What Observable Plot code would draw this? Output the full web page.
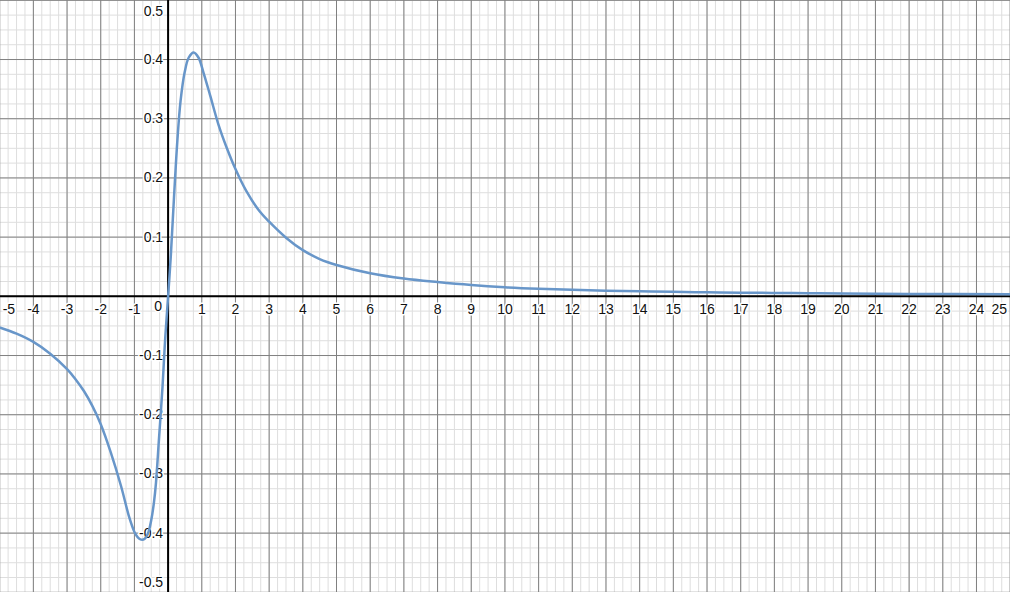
<!DOCTYPE html>
<html>
<head>
<meta charset="utf-8">
<script src="https://cdn.jsdelivr.net/npm/d3@7"></script>
<script src="https://cdn.jsdelivr.net/npm/@observablehq/plot@0.6"></script>
<style>
  html, body { margin: 0; padding: 0; background: #fff; }
  #chart svg { display: block; }
</style>
</head>
<body>
<div id="chart"></div>
<script>
// Curve points
const curveX = [-4.98, -4.5, -4.0, -3.5, -3.0, -2.75, -2.5, -2.25, -2.0, -1.7, -1.4, -1.15, -1.0, -0.9, -0.8, -0.7, -0.6, -0.5, -0.42, -0.36, -0.27, -0.166, -0.09, 0,
  0.08, 0.175, 0.275, 0.37, 0.49, 0.61, 0.76, 0.905, 1.05, 1.25, 1.49, 1.74, 2.0, 2.32, 2.71, 3.0, 3.5, 4.0, 4.5, 5.0,
  6, 7, 8, 9, 10, 11, 12, 13, 14, 15, 16, 17, 18, 19, 20, 22, 25.01];
const curveY = [-0.053, -0.063, -0.077, -0.097, -0.123, -0.140, -0.160, -0.185, -0.216, -0.264, -0.320, -0.374, -0.398, -0.407, -0.411, -0.410, -0.401, -0.378, -0.348, -0.315, -0.240, -0.153, -0.075, 0,
  0.068, 0.167, 0.263, 0.330, 0.378, 0.403, 0.412, 0.403, 0.378, 0.339, 0.291, 0.251, 0.215, 0.178, 0.144, 0.126, 0.099, 0.078, 0.063, 0.053,
  0.039, 0.030, 0.024, 0.019, 0.0153, 0.0128, 0.0110, 0.0096, 0.0085, 0.0076, 0.0068, 0.0062, 0.0057, 0.0052, 0.0048, 0.0041, 0.0033];

// Tick labels
const xTicksMid = [-4, -3, -2, -1, 1, 2, 3, 4, 5, 6, 7, 8, 9, 10, 11, 12, 13, 14, 15, 16, 17, 18, 19, 20, 21, 22, 23, 24];
const xTickFirst = [-5];
const xTickLast = [25];
const yTicksMid = [-0.4, -0.3, -0.2, -0.1, 0.1, 0.2, 0.3, 0.4];
const yTickTop = [0.5];
const yTickBottom = [-0.5];
const originLabel = [0];

// Grid lines
const xMajor = d3.range(-5, 26, 1);
const xMinor = d3.range(-5, 25.01, 0.25);
const yMajor = d3.range(-5, 6, 1).map(d => d / 10);
const yMinor = d3.range(-20, 21, 1).map(d => d / 40);

const points = curveX.map((x, i) => ({x, y: curveY[i]}));

const font = "'Liberation Sans', Arial, sans-serif";
const textStyle = {fill: "#111", stroke: "white", strokeWidth: 3, fontSize: 14};

const chart = Plot.plot({
  width: 1010,
  height: 592,
  margin: 0,
  x: {domain: [-4.976, 25.01], axis: null},
  y: {domain: [-0.5003, 0.4997], axis: null},
  style: {background: "white", fontFamily: font, overflow: "hidden"},
  marks: [
    Plot.ruleX(xMinor, {stroke: "#dedede", strokeWidth: 1}),
    Plot.ruleY(yMinor, {stroke: "#dedede", strokeWidth: 1}),
    Plot.ruleX(xMajor, {stroke: "#808080", strokeWidth: 1}),
    Plot.ruleY(yMajor, {stroke: "#808080", strokeWidth: 1}),
    Plot.ruleX([0], {stroke: "#000", strokeWidth: 2}),
    Plot.ruleY([0], {stroke: "#000", strokeWidth: 2}),
    Plot.text(xTicksMid, {x: d => d, y: 0, text: d => String(d), dy: 13, lineAnchor: "middle", textAnchor: "middle", ...textStyle}),
    Plot.text(xTickFirst, {x: d => d, y: 0, text: d => String(d), dy: 13, dx: 3, lineAnchor: "middle", textAnchor: "start", ...textStyle}),
    Plot.text(xTickLast, {x: d => d, y: 0, text: d => String(d), dy: 13, dx: -3, lineAnchor: "middle", textAnchor: "end", ...textStyle}),
    Plot.text(originLabel, {x: 0, y: 0, text: d => String(d), dy: 10, dx: -6, lineAnchor: "middle", textAnchor: "end", ...textStyle}),
    Plot.text(yTicksMid, {x: 0, y: d => d, text: d => String(d), dx: -5, lineAnchor: "middle", textAnchor: "end", ...textStyle}),
    Plot.text(yTickTop, {x: 0, y: d => d, text: d => String(d), dx: -5, dy: 11, lineAnchor: "middle", textAnchor: "end", ...textStyle}),
    Plot.text(yTickBottom, {x: 0, y: d => d, text: d => String(d), dx: -5, dy: -10, lineAnchor: "middle", textAnchor: "end", ...textStyle}),
    Plot.line(points, {x: "x", y: "y", stroke: "#6896c9", strokeWidth: 2.5, curve: "catmull-rom"})
  ]
});
document.getElementById("chart").appendChild(chart);
</script>
</body>
</html>
